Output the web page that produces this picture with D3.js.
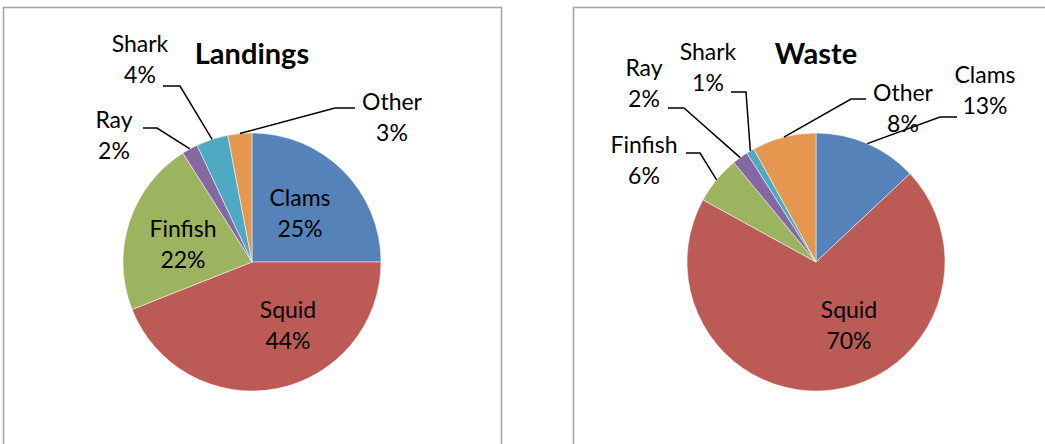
<!DOCTYPE html>
<html>
<head>
<meta charset="utf-8">
<script src="https://cdn.jsdelivr.net/npm/d3@7"></script>
<style>
  html, body { margin: 0; padding: 0; background: #fff; }
  svg { display: block; font-family: Lato, "Open Sans", sans-serif; }
</style>
</head>
<body>
<svg id="chart" width="1045" height="444"></svg>
<script>
// Species categories, in clockwise order from 12 o'clock
const categories = ["Clams", "Squid", "Finfish", "Ray", "Shark", "Other"];
// Share of each category (%)
const landingsValues = [25, 44, 22, 2, 4, 3];
const wasteValues = [13, 70, 6, 2, 1, 8];
const chartTitles = ["Landings", "Waste"];

const colors = d3.scaleOrdinal()
  .domain(categories)
  .range(["#5482B9", "#BC5B55", "#9CB35F", "#8468A0", "#4EA9C3", "#E5964F"]);

// Panel layout: frame, pie centre, radius and label placement
const panels = [
  {
    title: chartTitles[0], values: landingsValues,
    frame: { x: 3.5, y: 7.5, w: 498, h: 460 },
    cx: 252, cy: 262, r: 129, titleY: 64,
    labels: {
      Clams:   { x: 300, y: 206, inside: true },
      Squid:   { x: 288, y: 318, inside: true },
      Finfish: { x: 183, y: 237, inside: true },
      Ray:     { x: 114, y: 128, lineFrom: [143, 128], elbow: [157, 128] },
      Shark:   { x: 140, y: 52,  lineFrom: [163, 86],  elbow: [180, 86] },
      Other:   { x: 392, y: 110, lineFrom: [355, 108], elbow: [335, 108] }
    }
  },
  {
    title: chartTitles[1], values: wasteValues,
    frame: { x: 573.5, y: 7.5, w: 520, h: 460 },
    cx: 816, cy: 262, r: 129, titleY: 64,
    labels: {
      Clams:   { x: 985, y: 83,  lineFrom: [957, 117], elbow: [940, 117] },
      Squid:   { x: 849, y: 318, inside: true },
      Finfish: { x: 644, y: 153, lineFrom: [686, 153], elbow: [700, 153] },
      Ray:     { x: 644, y: 76,  lineFrom: [668, 108], elbow: [684, 108] },
      Shark:   { x: 708, y: 60,  lineFrom: [731, 92],  elbow: [746, 92] },
      Other:   { x: 903, y: 101, lineFrom: [866, 99],  elbow: [851, 99] }
    }
  }
];

const svg = d3.select("#chart");
const lineGap = 31;

const pie = d3.pie().sort(null).value(d => d.value);

panels.forEach(p => {
  const g = svg.append("g");

  g.append("rect")
    .attr("x", p.frame.x).attr("y", p.frame.y)
    .attr("width", p.frame.w).attr("height", p.frame.h)
    .attr("fill", "#fff").attr("stroke", "#A6A6A6").attr("stroke-width", 1.6);

  const data = categories.map((c, i) => ({ name: c, value: p.values[i] }));
  const arcs = pie(data);
  const arc = d3.arc().innerRadius(0).outerRadius(p.r);

  const pieG = g.append("g").attr("transform", `translate(${p.cx},${p.cy})`);
  pieG.selectAll("path")
    .data(arcs)
    .join("path")
    .attr("d", arc)
    .attr("fill", d => colors(d.data.name))
    .attr("stroke", "#fff")
    .attr("stroke-width", 0.5);

  // Title
  g.append("text")
    .attr("x", p.cx).attr("y", p.titleY)
    .attr("text-anchor", "middle")
    .attr("font-size", 29).attr("font-weight", "bold")
    .attr("fill", "#000")
    .text(p.title);

  arcs.forEach(a => {
    const lab = p.labels[a.data.name];
    const t = g.append("text")
      .attr("text-anchor", "middle")
      .attr("font-size", 23)
      .attr("fill", "#000");
    t.append("tspan").attr("x", lab.x).attr("y", lab.y).text(a.data.name);
    t.append("tspan").attr("x", lab.x).attr("y", lab.y + lineGap).text(a.data.value + "%");

    if (!lab.inside) {
      const mid = (a.startAngle + a.endAngle) / 2;
      const edge = [p.cx + p.r * Math.sin(mid), p.cy - p.r * Math.cos(mid)];
      g.append("path")
        .attr("d", d3.line()([lab.lineFrom, lab.elbow, edge]))
        .attr("fill", "none")
        .attr("stroke", "#000")
        .attr("stroke-width", 1.5);
    }
  });
});
</script>
</body>
</html>
